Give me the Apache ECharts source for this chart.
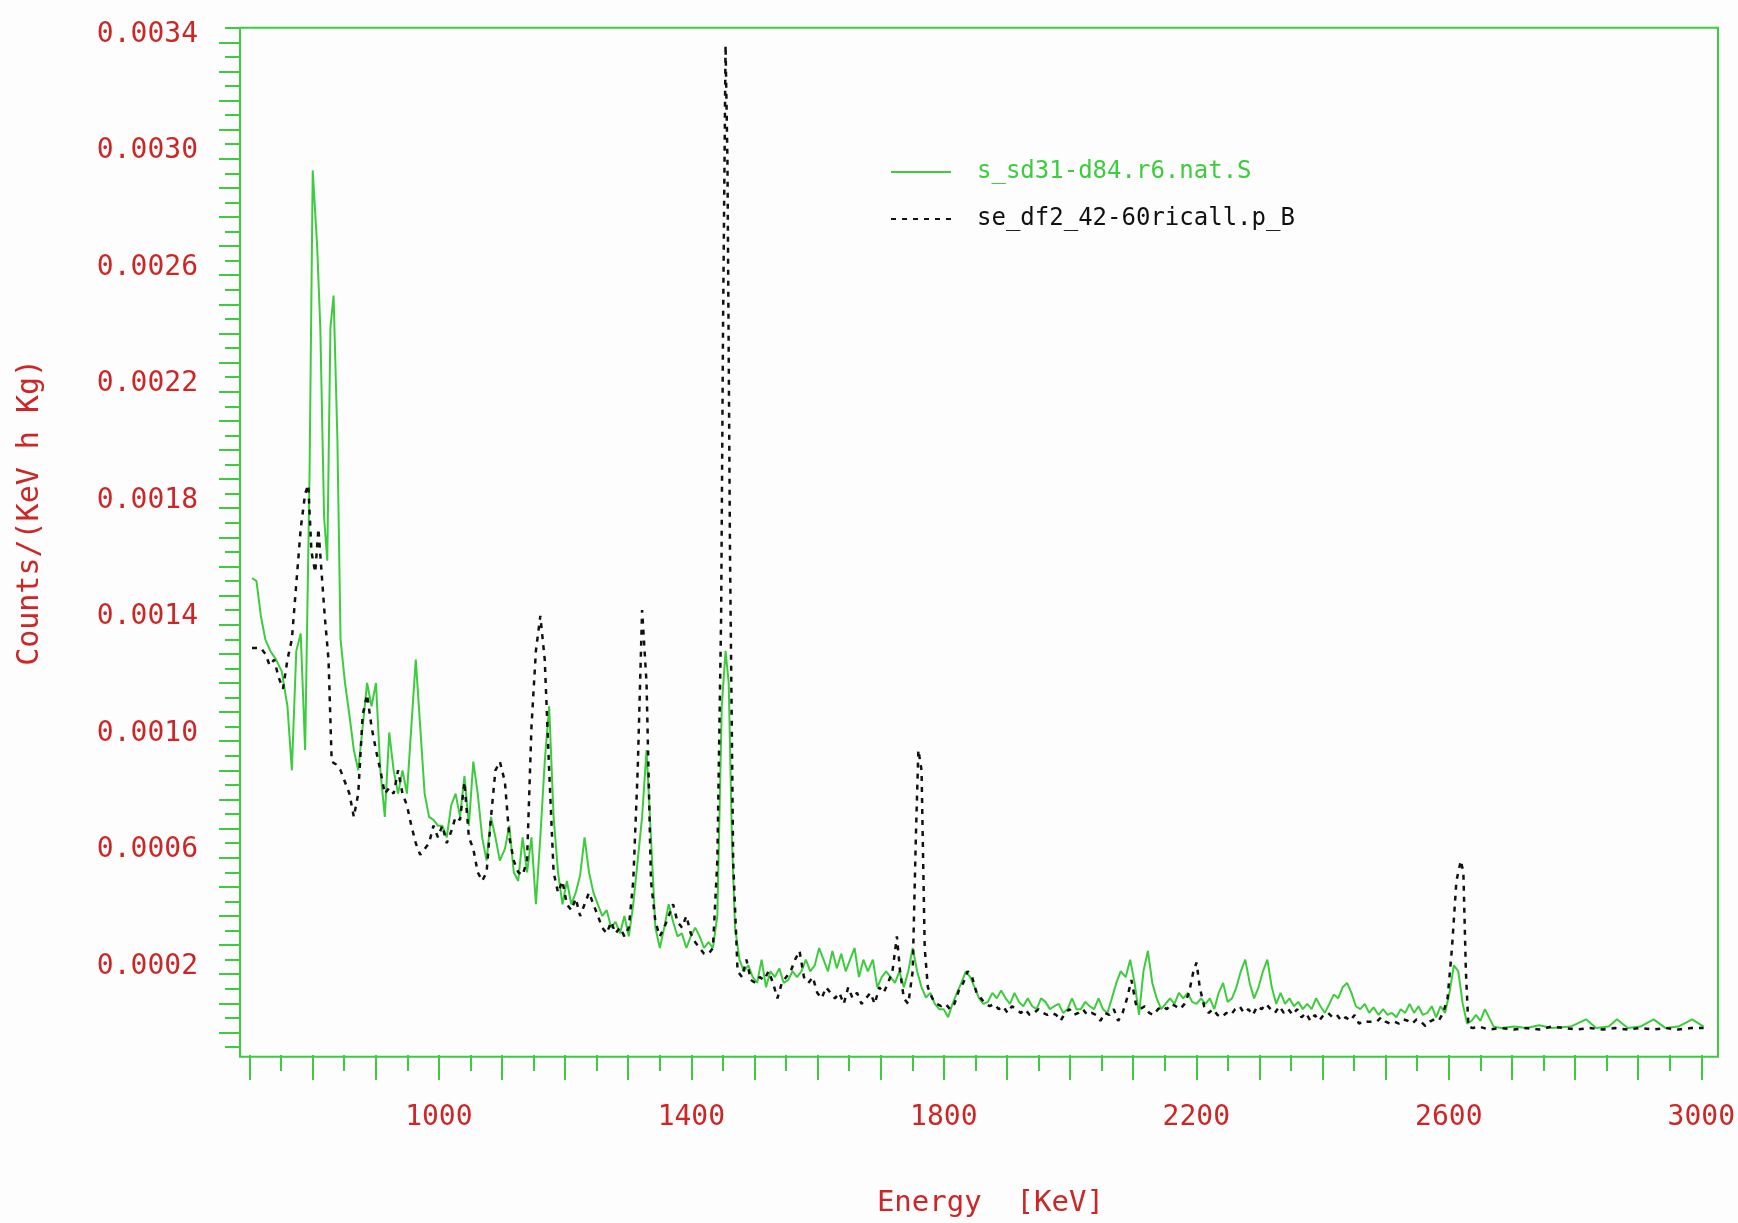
<!DOCTYPE html>
<html>
<head>
<meta charset="utf-8">
<script src="https://cdn.jsdelivr.net/npm/echarts/dist/echarts.min.js"></script>
<style>
html,body{margin:0;padding:0;background:#fdfdfd;}
#chart{width:1738px;height:1223px;}
</style>
</head>
<body>
<div id="chart"></div>
<script>
// ---------------- DATA ----------------
// Values in units of 1e-4 Counts/(KeV h Kg); energies in keV
const UNIT = 1e-4;
const xTickLabels = [1000, 1400, 1800, 2200, 2600, 3000];
const yTickLabels = [0.0002, 0.0006, 0.0010, 0.0014, 0.0018, 0.0022, 0.0026, 0.0030, 0.0034];
const greenName = 's_sd31-d84.r6.nat.S';
const blackName = 'se_df2_42-60ricall.p_B';

const greenSpectrum = [
[704,15.1],[711,15.0],[718,13.8],[725,13.0],[733,12.6],[742,12.3],[751,11.9],[760,10.7],[767,8.5],[774,12.6],
[781,13.2],[788,9.2],[795,18.7],[800,29.1],[807,26.5],[812,23.7],[818,17.2],[823,15.7],[828,23.7],[833,24.8],
[839,19.9],[844,13.0],[851,11.5],[858,10.4],[865,9.2],[872,8.5],[879,10.0],[886,11.5],[893,10.7],[900,11.5],
[907,8.5],[914,6.9],[921,9.8],[928,8.5],[935,7.7],[942,8.5],[949,7.7],[956,10.0],[963,12.3],[970,10.0],
[977,7.7],[984,6.9],[991,6.8],[998,6.6],[1005,6.6],[1012,6.2],[1019,7.3],[1026,7.7],[1033,6.9],[1040,8.3],
[1047,6.6],[1054,8.8],[1061,7.7],[1068,6.2],[1075,5.4],[1082,6.9],[1089,6.2],[1096,5.4],[1104,5.8],[1111,6.6],
[1118,5.0],[1125,4.7],[1132,6.2],[1139,5.0],[1146,6.2],[1153,3.9],[1160,6.2],[1167,8.8],[1174,10.7],[1181,6.9],
[1188,5.0],[1195,3.9],[1202,4.7],[1209,3.9],[1216,4.3],[1223,4.9],[1230,6.2],[1237,5.0],[1244,4.3],[1251,3.9],
[1258,3.5],[1265,3.7],[1272,3.1],[1279,3.3],[1286,2.9],[1293,3.5],[1300,2.8],[1307,3.9],[1314,5.4],[1321,6.9],
[1328,9.2],[1335,6.2],[1342,3.1],[1349,2.4],[1356,3.1],[1363,3.9],[1370,3.3],[1377,2.8],[1384,2.9],[1391,2.4],
[1398,2.8],[1405,3.1],[1412,2.8],[1419,2.4],[1426,2.6],[1433,2.4],[1440,3.5],[1447,10.7],[1453,12.6],[1458,11.5],
[1463,6.2],[1468,3.1],[1475,2.0],[1482,1.6],[1489,1.8],[1496,1.4],[1503,1.2],[1510,2.0],[1517,1.05],[1524,1.6],
[1531,1.4],[1538,1.7],[1545,1.2],[1552,1.3],[1559,1.6],[1566,1.4],[1573,1.6],[1580,2.0],[1587,1.6],[1594,1.8],
[1601,2.4],[1608,2.0],[1615,1.6],[1622,2.3],[1629,1.7],[1636,2.2],[1643,1.6],[1650,2.0],[1657,2.4],[1664,1.4],
[1671,2.0],[1678,1.6],[1686,2.0],[1693,1.05],[1700,1.4],[1707,1.6],[1714,1.4],[1721,1.2],[1728,1.6],[1735,1.05],
[1742,1.6],[1749,2.4],[1756,1.6],[1763,1.05],[1770,0.7],[1777,0.86],[1784,0.48],[1791,0.3],[1798,0.3],[1805,0.02],
[1812,0.48],[1819,0.86],[1826,1.2],[1833,1.6],[1840,1.4],[1847,1.05],[1854,0.67],[1861,0.48],[1868,0.55],[1875,0.86],
[1882,0.67],[1889,0.94],[1896,0.67],[1903,0.48],[1910,0.86],[1917,0.55],[1924,0.4],[1931,0.67],[1938,0.4],[1945,0.3],
[1952,0.67],[1959,0.55],[1966,0.3],[1973,0.4],[1980,0.48],[1987,0.17],[1994,0.3],[2001,0.67],[2008,0.3],[2015,0.3],
[2022,0.55],[2029,0.4],[2036,0.3],[2043,0.67],[2050,0.3],[2057,0.17],[2064,0.67],[2071,1.2],[2078,1.6],[2086,1.4],
[2093,2.0],[2100,1.2],[2107,0.1],[2114,1.6],[2121,2.3],[2128,1.2],[2135,0.67],[2142,0.3],[2149,0.48],[2156,0.67],
[2163,0.48],[2170,0.86],[2177,0.67],[2184,0.86],[2191,0.55],[2198,0.48],[2205,0.67],[2212,0.48],[2219,0.67],[2226,0.3],
[2233,0.86],[2240,1.2],[2247,0.55],[2254,0.67],[2261,1.05],[2268,1.6],[2275,2.0],[2282,1.2],[2289,0.67],[2296,1.05],
[2303,1.6],[2310,2.0],[2317,1.05],[2324,0.48],[2331,0.86],[2338,0.48],[2345,0.67],[2352,0.4],[2359,0.55],[2366,0.3],
[2373,0.48],[2380,0.3],[2387,0.67],[2394,0.4],[2401,0.17],[2408,0.48],[2415,0.8],[2422,0.67],[2429,1.05],[2436,1.2],
[2443,0.86],[2450,0.4],[2457,0.3],[2464,0.48],[2471,0.17],[2478,0.36],[2486,0.1],[2493,0.3],[2500,0.1],[2507,0.17],
[2514,0.02],[2521,0.3],[2528,0.17],[2535,0.48],[2542,0.17],[2549,0.4],[2556,0.1],[2563,0.17],[2570,0.4],[2577,0.02],
[2584,0.4],[2591,0.17],[2598,0.86],[2605,1.8],[2612,1.6],[2619,0.48],[2626,-0.2],[2633,-0.1],[2640,0.1],[2647,-0.1],
[2654,0.3],[2661,0.0],[2668,-0.3],[2680,-0.35],[2700,-0.3],[2720,-0.35],[2740,-0.25],[2760,-0.35],[2790,-0.3],[2814,-0.05],
[2830,-0.35],[2850,-0.3],[2863,-0.05],[2880,-0.35],[2900,-0.3],[2921,-0.05],[2940,-0.35],[2960,-0.3],[2982,-0.05],[3000,-0.3]
];

const blackSpectrum = [
[704,12.7],[711,12.7],[718,12.7],[725,12.5],[732,12.1],[739,12.3],[746,11.7],[753,11.3],[760,12.3],[767,13.0],
[774,14.9],[781,16.8],[788,18.0],[793,18.3],[798,16.0],[804,15.3],[809,16.8],[814,15.3],[819,13.8],[825,12.3],
[830,8.8],[837,8.7],[844,8.5],[851,8.1],[858,7.7],[865,6.9],[872,7.7],[879,10.4],[886,11.1],[893,10.0],
[900,9.2],[907,8.5],[914,7.7],[921,7.9],[928,7.7],[935,8.5],[942,7.7],[949,7.3],[956,6.6],[963,6.0],
[970,5.6],[977,5.8],[984,6.0],[991,6.6],[998,6.2],[1005,6.6],[1012,6.0],[1019,6.4],[1026,6.9],[1033,6.8],
[1040,8.1],[1047,6.2],[1054,5.8],[1061,5.0],[1068,4.7],[1075,5.0],[1082,6.9],[1089,8.5],[1096,8.8],[1104,8.1],
[1111,6.2],[1118,5.4],[1125,5.0],[1132,4.9],[1139,5.4],[1146,10.0],[1153,12.6],[1160,13.8],[1167,12.3],[1174,8.5],
[1181,5.0],[1188,4.3],[1195,4.7],[1202,3.9],[1209,3.7],[1216,4.1],[1223,3.5],[1230,3.9],[1237,4.3],[1244,3.9],
[1251,3.5],[1258,3.1],[1265,2.9],[1272,3.3],[1279,2.9],[1286,3.1],[1293,2.8],[1300,3.1],[1307,4.7],[1314,8.5],
[1321,14.0],[1328,11.5],[1335,4.7],[1342,3.3],[1349,2.8],[1356,3.1],[1363,3.5],[1370,3.9],[1377,3.3],[1384,3.1],
[1391,3.5],[1398,2.9],[1405,2.6],[1412,2.4],[1419,2.2],[1426,2.2],[1433,2.4],[1440,5.4],[1446,13.8],[1449,23.7],
[1453,33.4],[1456,29.4],[1460,16.0],[1465,5.4],[1472,1.6],[1479,1.4],[1486,2.0],[1493,1.3],[1500,1.2],[1507,1.4],
[1514,1.3],[1521,1.6],[1528,1.2],[1535,0.67],[1542,1.2],[1549,1.4],[1556,1.6],[1563,2.0],[1570,2.3],[1577,1.4],
[1584,1.2],[1591,1.4],[1598,0.86],[1605,0.67],[1612,1.05],[1619,0.86],[1626,0.67],[1633,0.86],[1640,0.48],[1647,1.05],
[1654,0.67],[1661,0.86],[1668,0.48],[1675,0.67],[1682,0.86],[1689,0.48],[1696,1.05],[1703,0.86],[1710,1.2],[1717,1.6],
[1724,2.8],[1729,1.6],[1735,0.67],[1742,0.48],[1749,1.6],[1754,6.2],[1758,9.2],[1763,8.5],[1768,2.4],[1773,1.05],
[1780,0.67],[1787,0.48],[1794,0.4],[1801,0.48],[1808,0.3],[1815,0.48],[1822,0.94],[1829,1.2],[1836,1.6],[1843,1.4],
[1850,0.86],[1857,0.67],[1864,0.48],[1871,0.4],[1878,0.48],[1885,0.3],[1892,0.4],[1899,0.17],[1906,0.4],[1913,0.3],
[1920,0.17],[1927,0.3],[1934,0.1],[1941,0.17],[1948,0.3],[1955,0.17],[1962,0.1],[1969,0.17],[1976,0.1],[1983,-0.1],
[1990,0.17],[1997,0.3],[2004,0.1],[2011,0.17],[2018,0.3],[2025,0.1],[2032,0.17],[2039,0.1],[2046,-0.1],[2053,0.17],
[2060,0.1],[2067,0.3],[2074,-0.1],[2081,0.17],[2088,0.67],[2095,1.3],[2102,0.48],[2109,0.3],[2116,0.4],[2123,0.17],
[2130,0.1],[2137,0.3],[2144,0.4],[2151,0.3],[2158,0.48],[2165,0.4],[2172,0.3],[2179,0.48],[2186,0.86],[2193,1.6],
[2198,1.9],[2203,1.05],[2210,0.4],[2217,0.17],[2224,0.3],[2231,0.1],[2238,0.02],[2245,0.17],[2252,0.1],[2259,0.3],
[2266,0.4],[2273,0.17],[2280,0.3],[2287,0.1],[2294,0.4],[2301,0.3],[2308,0.48],[2315,0.3],[2322,0.17],[2329,0.4],
[2336,0.17],[2343,0.3],[2350,0.1],[2357,0.3],[2364,0.02],[2371,0.17],[2378,-0.1],[2385,0.1],[2392,-0.1],[2399,0.1],
[2406,0.17],[2413,0.02],[2420,0.1],[2427,-0.1],[2434,0.02],[2441,-0.1],[2448,0.1],[2455,-0.2],[2462,-0.1],[2469,-0.13],
[2476,-0.13],[2483,-0.13],[2490,0.02],[2497,-0.13],[2504,-0.2],[2511,-0.13],[2518,-0.2],[2525,-0.05],[2532,-0.1],[2539,-0.2],
[2546,-0.05],[2553,-0.13],[2560,-0.28],[2567,-0.13],[2574,-0.05],[2581,-0.1],[2588,0.17],[2595,0.67],[2602,2.4],[2609,4.7],
[2616,5.4],[2620,5.0],[2624,1.6],[2628,-0.3],[2635,-0.35],[2645,-0.3],[2660,-0.4],[2680,-0.35],[2700,-0.4],[2720,-0.35],
[2740,-0.4],[2760,-0.3],[2780,-0.35],[2800,-0.4],[2820,-0.35],[2840,-0.4],[2860,-0.35],[2880,-0.4],[2900,-0.35],[2920,-0.4],
[2940,-0.35],[2960,-0.4],[2980,-0.35],[3000,-0.35]
];

// ---------------- CHART ----------------
const GREEN = '#3dcc3d';
const RED = '#cc2626';
const BLACK = '#111111';
const FONT = '"DejaVu Sans Mono", "Liberation Mono", monospace';

const chart = echarts.init(document.getElementById('chart'), null, {renderer: 'canvas'});

const toData = arr => arr.map(p => [p[0], p[1] * UNIT]);
const hiddenAxis = idx => ({gridIndex: idx, type: 'value', show: false, min: 0, max: 1});

const option = {
  backgroundColor: '#fdfdfd',
  animation: false,
  grid: [
    // data area (y from -0.0001 to 0.0034, x from 700 to 3000)
    {left: 249.5, right: 34.4, top: 27.7, bottom: 176},
    // plot frame
    {left: 240, right: 20, top: 27.7, bottom: 166.3, show: true,
     borderColor: GREEN, borderWidth: 2, backgroundColor: 'transparent'},
    // energy axis row, sitting on the frame's bottom edge
    {left: 249.5, right: 34.4, top: 27.7, bottom: 166.3}
  ],
  legend: {
    orient: 'vertical',
    left: 885, top: 155,
    itemWidth: 60, itemHeight: 20, itemGap: 23,
    itemStyle: {opacity: 0, color: 'rgba(0,0,0,0)', borderWidth: 0},
    textStyle: {fontFamily: FONT, fontSize: 24, padding: [0, 0, 0, 21]},
    data: [
      {name: greenName, textStyle: {color: GREEN}},
      {name: blackName, textStyle: {color: BLACK}}
    ]
  },
  xAxis: [
    {gridIndex: 0, type: 'value', min: 700, max: 3000, show: false},
    hiddenAxis(1),
    {
      gridIndex: 2, type: 'value', min: 700, max: 3000, interval: 100,
      axisLine: {show: false},
      axisTick: {show: true, inside: false, length: 25, lineStyle: {color: GREEN, width: 2}},
      minorTick: {show: true, splitNumber: 2, length: 16, lineStyle: {color: GREEN, width: 2}},
      splitLine: {show: false}, minorSplitLine: {show: false},
      axisLabel: {
        margin: 49, color: RED, fontFamily: FONT, fontSize: 28,
        formatter: v => xTickLabels.indexOf(Math.round(v)) >= 0 ? String(Math.round(v)) : ''
      },
      name: 'Energy  [KeV]', nameLocation: 'middle', nameGap: 134,
      nameTextStyle: {color: RED, fontFamily: FONT, fontSize: 29, padding: [0, 0, 0, 30]}
    }
  ],
  yAxis: [
    {
      gridIndex: 0, type: 'value', min: -0.0001, max: 0.0034, interval: 0.0001, offset: 9.5,
      axisLine: {show: false},
      axisTick: {show: true, length: 15, lineStyle: {color: GREEN, width: 2}},
      minorTick: {show: true, splitNumber: 2, length: 21, lineStyle: {color: GREEN, width: 2}},
      splitLine: {show: false}, minorSplitLine: {show: false},
      axisLabel: {
        margin: 42, color: RED, fontFamily: FONT, fontSize: 28,
        verticalAlign: 'top', lineHeight: 14,
        formatter: v => {
          const hit = yTickLabels.find(l => Math.abs(l - v) < 1e-9);
          return hit !== undefined ? hit.toFixed(4) : '';
        }
      },
      name: 'Counts/(KeV h Kg)', nameLocation: 'middle', nameGap: 195, nameRotate: 90,
      nameTextStyle: {color: RED, fontFamily: FONT, fontSize: 30, padding: [0, 0, 0, 50]}
    },
    hiddenAxis(1),
    hiddenAxis(2)
  ],
  series: [
    {
      name: greenName, type: 'line', xAxisIndex: 0, yAxisIndex: 0,
      data: toData(greenSpectrum), symbol: 'none', showSymbol: false,
      lineStyle: {color: GREEN, width: 2}, itemStyle: {color: GREEN}, z: 3
    },
    {
      name: blackName, type: 'line', xAxisIndex: 0, yAxisIndex: 0,
      data: toData(blackSpectrum), symbol: 'none', showSymbol: false,
      lineStyle: {color: BLACK, width: 2.5, type: [5, 6]}, itemStyle: {color: BLACK}, z: 4
    }
  ]
};
chart.setOption(option);
</script>
</body>
</html>
